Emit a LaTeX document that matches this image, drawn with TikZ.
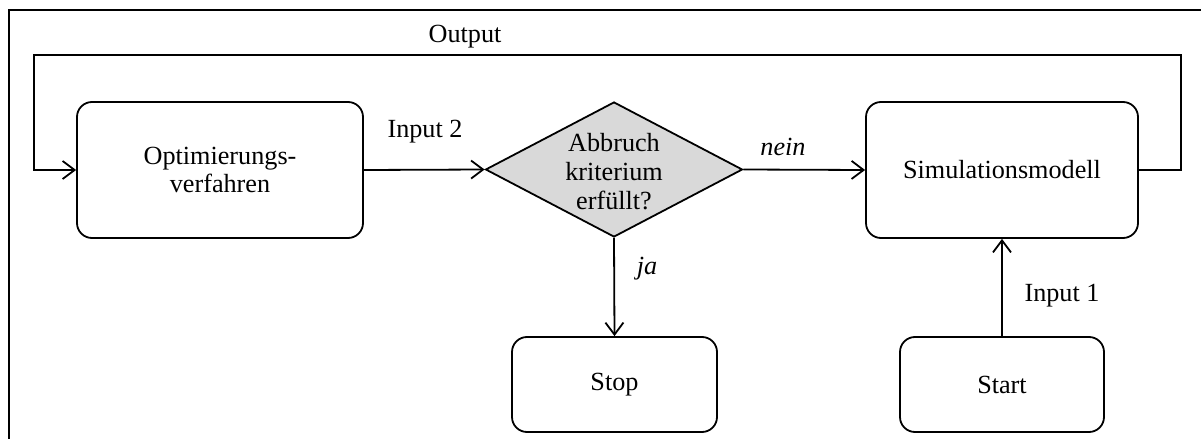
\documentclass[tikz,border=0pt]{standalone}
\usepackage{fontspec}
\setmainfont{Liberation Serif}
\usetikzlibrary{shapes.geometric,arrows.meta}
\begin{document}
\begin{tikzpicture}[x=0.5pt,y=-0.5pt,
  every node/.style={font=\fontsize{13.1pt}{14.3pt}\selectfont},
  box/.style={draw,line width=0.9pt,rounded corners=7.5pt,align=center,inner sep=0pt},
  decision/.style={diamond,draw,line width=0.9pt,fill=black!15,inner sep=0pt,
    minimum width=128.5pt,minimum height=67.5pt},
  flow/.style={line width=0.9pt,-{Straight Barb[length=6pt,width=9pt,line width=0.9pt]}},
  lbl/.style={inner sep=0pt}]
  \useasboundingbox (0,0) rectangle (1201,439);
  % outer frame, cut off at the right and bottom edges
  \begin{scope}
    \clip (0,0) rectangle (1201,439);
    \draw[line width=0.9pt] (9,10) rectangle (1215,455);
  \end{scope}

  \node[box,minimum width=143pt,minimum height=68pt] (opt) at (220,170) {Optimierungs-\\verfahren};
  \node[decision,label={[align=center,inner sep=0pt,yshift=-1pt]center:Abbruch\\kriterium\\erfüllt?}] (dec) at (614,169.5) {};
  \node[box,minimum width=136pt,minimum height=68pt] (sim) at (1002,170) {Simulationsmodell};
  \node[box,minimum width=102.5pt,minimum height=47.5pt] (stop) at (614.5,384.5) {Stop};
  \node[box,minimum width=102pt,minimum height=47.5pt] (start) at (1002,384.5) {Start};

  \coordinate (c1) at (1181,55);
  \coordinate (c2) at (34,55);

  \draw[flow] (opt.east) -- (dec.west);
  \draw[flow] (dec.east) -- (sim.west);
  \draw[flow] (dec.south) -- (stop.north);
  \draw[flow] (start.north) -- (sim.south);
  \draw[flow] (sim.east) -| (c1) -- (c2) |- (opt.west);

  \node[lbl] (lout) at (465,37) {Output};
  \node[lbl] (lin2) at (425,132) {Input 2};
  \node[lbl] (lnein) at (783,147) {\itshape nein};
  \node[lbl] (lja) at (647,269) {\itshape ja};
  \node[lbl] (lin1) at (1062,296) {Input 1};
\end{tikzpicture}
\end{document}
